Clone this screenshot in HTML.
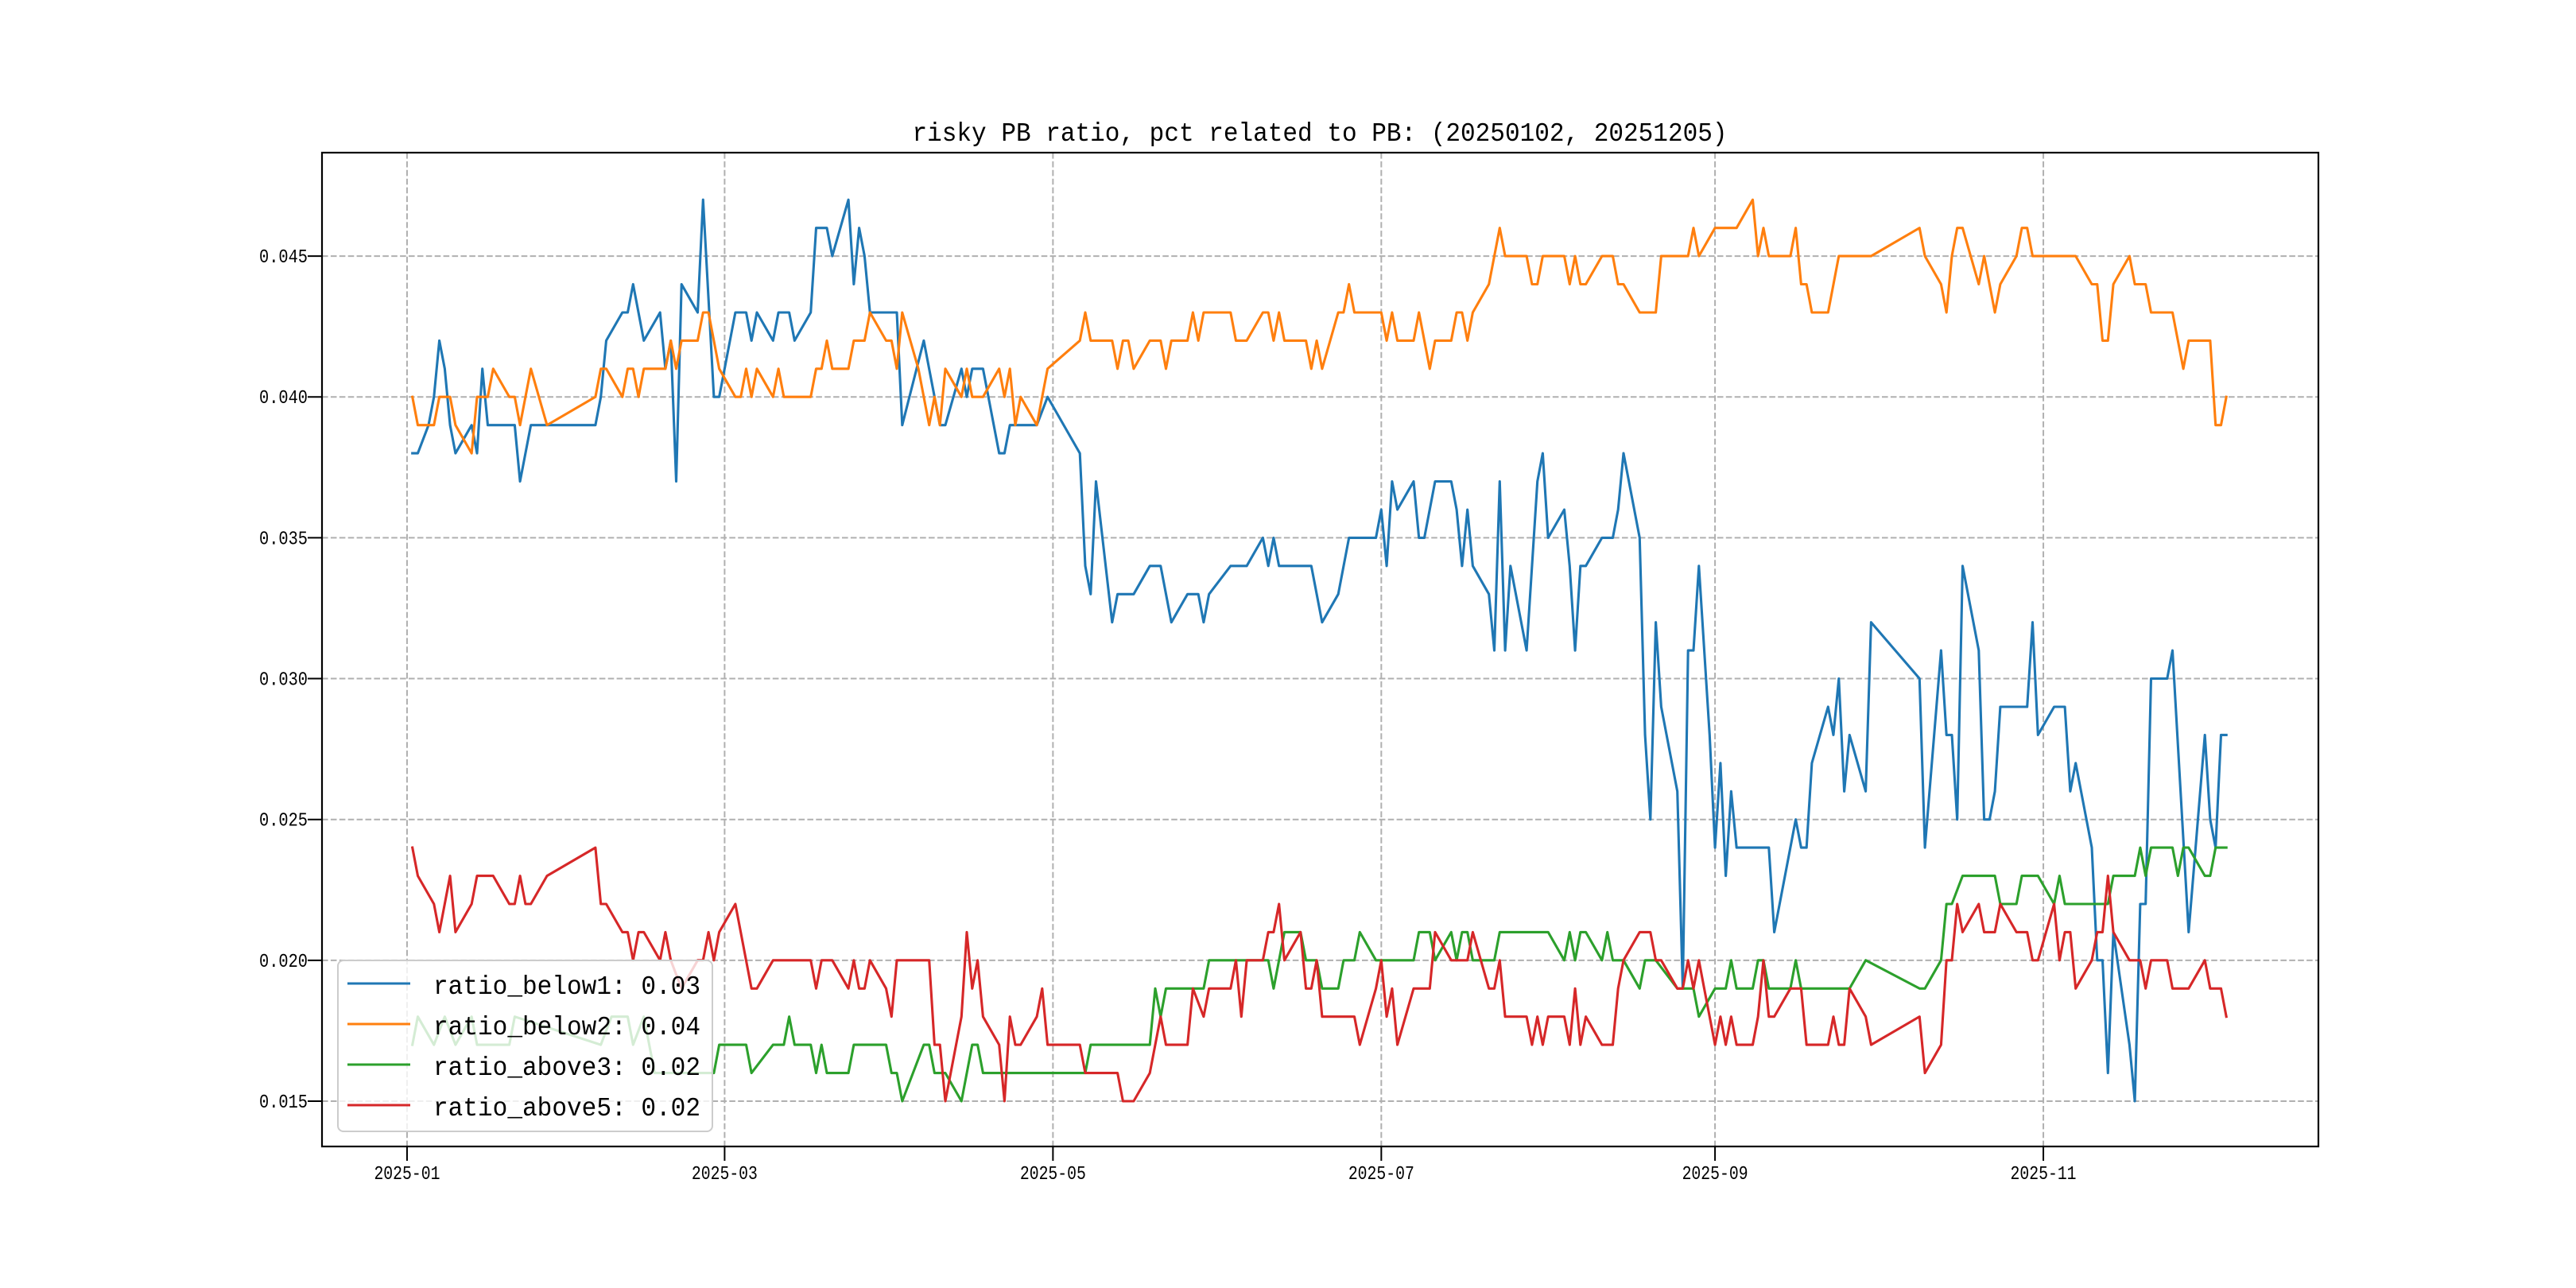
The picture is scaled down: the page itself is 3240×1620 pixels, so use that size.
<!DOCTYPE html>
<html><head><meta charset="utf-8"><style>
html,body{margin:0;padding:0;background:#fff;}
svg{display:block;}
text{font-family:"Liberation Mono","Noto Sans CJK SC",monospace;fill:#000;}
</style></head>
<body>
<svg id="chart" width="3240" height="1620" viewBox="0 0 3240 1620" xmlns="http://www.w3.org/2000/svg">
<rect x="0" y="0" width="3240" height="1620" fill="#fff"/>
<text x="1660" y="177" font-size="33" text-anchor="middle" textLength="1025" lengthAdjust="spacingAndGlyphs">risky PB ratio, pct related to PB: (20250102, 20251205)</text>
<g id="grid"></g>
<g id="series"></g>
<rect x="405" y="192" width="2511" height="1250" fill="none" stroke="#000" stroke-width="2.2"/>
<g id="axes"></g>
<g id="legend"></g>
</svg>
<script>
// ---- data (x = days since 2025-01-01) ----
const xTickDays = [0, 59, 120, 181, 243, 304];
const xTickLabels = ["2025-01","2025-03","2025-05","2025-07","2025-09","2025-11"];
const yTickValues = [0.015,0.020,0.025,0.030,0.035,0.040,0.045];
const yTickLabels = ["0.015","0.020","0.025","0.030","0.035","0.040","0.045"];
const seriesNames = ["ratio_below1: 0.03","ratio_below2: 0.04","ratio_above3: 0.02","ratio_above5: 0.02"];

const below1Days = [1,2,4,5,6,7,8,9,12,13,14,15,20,21,23,35,36,37,40,41,42,44,47,48,49,50,51,54,55,57,58,61,63,64,65,68,69,71,72,75,76,78,79,82,83,84,85,86,91,92,96,98,99,100,103,104,105,107,110,111,112,117,119,125,126,127,128,131,132,135,138,140,142,145,147,148,149,153,156,159,160,161,162,168,170,173,175,180,181,182,183,184,187,188,189,191,194,195,196,197,198,201,202,203,204,205,208,210,211,212,215,216,217,218,219,222,224,225,226,229,230,231,232,233,236,237,238,239,240,242,243,244,245,246,247,253,254,258,259,260,261,264,265,266,267,268,271,272,281,282,285,286,287,288,289,292,293,294,295,296,301,302,303,306,308,309,310,313,314,315,316,317,320,321,322,323,324,327,328,331,334,335,336,337,338];
const below1Vals = [0.038,0.038,0.039,0.040,0.042,0.041,0.039,0.038,0.039,0.038,0.041,0.039,0.039,0.037,0.039,0.039,0.040,0.042,0.043,0.043,0.044,0.042,0.043,0.041,0.042,0.037,0.044,0.043,0.047,0.040,0.040,0.043,0.043,0.042,0.043,0.042,0.043,0.043,0.042,0.043,0.046,0.046,0.045,0.047,0.044,0.046,0.045,0.043,0.043,0.039,0.042,0.040,0.039,0.039,0.041,0.040,0.041,0.041,0.038,0.038,0.039,0.039,0.040,0.038,0.034,0.033,0.037,0.032,0.033,0.033,0.034,0.034,0.032,0.033,0.033,0.032,0.033,0.034,0.034,0.035,0.034,0.035,0.034,0.034,0.032,0.033,0.035,0.035,0.036,0.034,0.037,0.036,0.037,0.035,0.035,0.037,0.037,0.036,0.034,0.036,0.034,0.033,0.031,0.037,0.031,0.034,0.031,0.037,0.038,0.035,0.036,0.034,0.031,0.034,0.034,0.035,0.035,0.036,0.038,0.035,0.028,0.025,0.032,0.029,0.026,0.019,0.031,0.031,0.034,0.028,0.024,0.027,0.023,0.026,0.024,0.024,0.021,0.025,0.024,0.024,0.027,0.029,0.028,0.030,0.026,0.028,0.026,0.032,0.030,0.024,0.031,0.028,0.028,0.025,0.034,0.031,0.025,0.025,0.026,0.029,0.029,0.032,0.028,0.029,0.029,0.026,0.027,0.024,0.020,0.020,0.016,0.021,0.017,0.015,0.022,0.022,0.030,0.030,0.031,0.021,0.028,0.025,0.024,0.028,0.028];

const below2Days = [1,2,5,6,8,9,12,13,15,16,19,20,21,23,26,35,36,37,40,41,42,43,44,48,49,50,51,54,55,56,58,61,62,63,64,65,68,69,70,75,76,77,78,79,82,83,85,86,89,90,91,92,95,97,98,99,100,103,104,105,107,110,111,112,113,114,117,118,119,125,126,127,131,132,133,134,135,138,140,141,142,145,146,147,148,153,154,156,159,160,161,162,163,167,168,169,170,173,174,175,176,181,182,183,184,187,188,190,191,194,195,196,197,198,201,203,204,208,209,210,211,215,216,217,218,219,222,224,225,226,229,232,233,238,239,240,243,247,250,251,252,253,257,258,259,260,261,264,266,272,281,282,285,286,287,288,289,292,293,295,296,299,300,301,302,310,313,314,315,316,317,320,321,323,324,328,330,331,335,336,337,338];
const below2Vals = [0.040,0.039,0.039,0.040,0.040,0.039,0.038,0.040,0.040,0.041,0.040,0.040,0.039,0.041,0.039,0.040,0.041,0.041,0.040,0.041,0.041,0.040,0.041,0.041,0.042,0.041,0.042,0.042,0.043,0.043,0.041,0.040,0.040,0.041,0.040,0.041,0.040,0.041,0.040,0.040,0.041,0.041,0.042,0.041,0.041,0.042,0.042,0.043,0.042,0.042,0.041,0.043,0.041,0.039,0.040,0.039,0.041,0.040,0.041,0.040,0.040,0.041,0.040,0.041,0.039,0.040,0.039,0.040,0.041,0.042,0.043,0.042,0.042,0.041,0.042,0.042,0.041,0.042,0.042,0.041,0.042,0.042,0.043,0.042,0.043,0.043,0.042,0.042,0.043,0.043,0.042,0.043,0.042,0.042,0.041,0.042,0.041,0.043,0.043,0.044,0.043,0.043,0.042,0.043,0.042,0.042,0.043,0.041,0.042,0.042,0.043,0.043,0.042,0.043,0.044,0.046,0.045,0.045,0.044,0.044,0.045,0.045,0.044,0.045,0.044,0.044,0.045,0.045,0.044,0.044,0.043,0.043,0.045,0.045,0.046,0.045,0.046,0.046,0.047,0.045,0.046,0.045,0.045,0.046,0.044,0.044,0.043,0.043,0.045,0.045,0.046,0.045,0.044,0.043,0.045,0.046,0.046,0.044,0.045,0.043,0.044,0.045,0.046,0.046,0.045,0.045,0.044,0.044,0.042,0.042,0.044,0.045,0.044,0.044,0.043,0.043,0.041,0.042,0.042,0.039,0.039,0.040];

const above3Days = [1,2,5,7,9,12,13,19,20,36,38,41,42,44,45,46,57,58,63,64,68,70,71,72,75,76,77,78,82,83,89,90,91,92,96,97,98,100,103,105,106,107,119,126,127,138,139,140,141,148,149,159,160,161,163,166,167,169,170,173,174,176,177,180,187,188,190,191,194,195,196,197,198,202,203,212,215,216,217,218,219,222,223,224,226,229,230,232,236,239,240,243,245,246,247,250,251,252,253,257,258,259,268,271,281,282,285,286,287,289,295,296,299,300,303,306,307,308,316,317,321,322,323,324,328,329,330,331,334,335,336,338];
const above3Vals = [0.017,0.018,0.017,0.018,0.017,0.018,0.017,0.017,0.018,0.017,0.018,0.018,0.017,0.018,0.017,0.016,0.016,0.017,0.017,0.016,0.017,0.017,0.018,0.017,0.017,0.016,0.017,0.016,0.016,0.017,0.017,0.016,0.016,0.015,0.017,0.017,0.016,0.016,0.015,0.017,0.017,0.016,0.016,0.016,0.017,0.017,0.019,0.018,0.019,0.019,0.020,0.020,0.020,0.019,0.021,0.021,0.020,0.020,0.019,0.019,0.020,0.020,0.021,0.020,0.020,0.021,0.021,0.020,0.021,0.020,0.021,0.021,0.020,0.020,0.021,0.021,0.020,0.021,0.020,0.021,0.021,0.020,0.021,0.020,0.020,0.019,0.020,0.020,0.019,0.019,0.018,0.019,0.019,0.020,0.019,0.019,0.020,0.020,0.019,0.019,0.020,0.019,0.019,0.020,0.019,0.019,0.020,0.022,0.022,0.023,0.023,0.022,0.022,0.023,0.023,0.022,0.023,0.022,0.022,0.023,0.023,0.024,0.023,0.024,0.024,0.023,0.024,0.024,0.023,0.023,0.024,0.024];

const above5Days = [1,2,5,6,8,9,12,13,16,19,20,21,22,23,26,35,36,37,40,41,42,43,44,47,48,49,51,54,55,56,57,58,61,64,65,68,75,76,77,79,82,83,84,85,86,89,90,91,97,98,99,100,103,104,105,106,107,110,111,112,113,114,117,118,119,125,126,132,133,135,138,140,141,145,146,148,149,153,154,155,156,159,160,161,162,163,166,167,168,169,170,176,177,180,181,182,183,184,187,190,191,194,197,198,201,202,203,204,208,209,210,211,212,215,216,217,218,219,222,224,225,226,229,231,232,233,236,237,238,239,240,241,242,243,244,245,246,247,250,251,252,253,254,257,259,260,264,265,266,267,268,271,272,281,282,285,286,287,288,289,292,293,295,296,299,301,302,303,306,307,308,309,310,313,314,315,316,317,320,322,323,324,327,328,331,334,335,337,338];
const above5Vals = [0.024,0.023,0.022,0.021,0.023,0.021,0.022,0.023,0.023,0.022,0.022,0.023,0.022,0.022,0.023,0.024,0.022,0.022,0.021,0.021,0.020,0.021,0.021,0.020,0.021,0.020,0.019,0.020,0.020,0.021,0.020,0.021,0.022,0.019,0.019,0.020,0.020,0.019,0.020,0.020,0.019,0.020,0.019,0.019,0.020,0.019,0.018,0.020,0.020,0.017,0.017,0.015,0.018,0.021,0.019,0.020,0.018,0.017,0.015,0.018,0.017,0.017,0.018,0.019,0.017,0.017,0.016,0.016,0.015,0.015,0.016,0.018,0.017,0.017,0.019,0.018,0.019,0.019,0.020,0.018,0.020,0.020,0.021,0.021,0.022,0.020,0.021,0.019,0.019,0.020,0.018,0.018,0.017,0.019,0.020,0.018,0.019,0.017,0.019,0.019,0.021,0.020,0.020,0.021,0.019,0.019,0.020,0.018,0.018,0.017,0.018,0.017,0.018,0.018,0.017,0.019,0.017,0.018,0.017,0.017,0.019,0.020,0.021,0.021,0.020,0.020,0.019,0.019,0.020,0.019,0.020,0.019,0.018,0.017,0.018,0.017,0.018,0.017,0.017,0.018,0.020,0.018,0.018,0.019,0.019,0.017,0.017,0.018,0.017,0.017,0.019,0.018,0.017,0.018,0.016,0.017,0.020,0.020,0.022,0.021,0.022,0.021,0.021,0.022,0.021,0.021,0.020,0.020,0.022,0.020,0.021,0.021,0.019,0.020,0.021,0.021,0.023,0.021,0.020,0.020,0.019,0.020,0.020,0.019,0.019,0.020,0.019,0.019,0.018];

const seriesColors = ["#1f77b4","#ff7f0e","#2ca02c","#d62728"];

// ---- axes ----
const PX0 = 405, PX1 = 2916, PY0 = 192, PY1 = 1442;
const XMIN = -15.8, XMAX = 355.1, YMIN = 0.013391, YMAX = 0.048672;
function xScale(d){ return PX0 + (d - XMIN) / (XMAX - XMIN) * (PX1 - PX0); }
function yScale(v){ return PY1 - (v - YMIN) / (YMAX - YMIN) * (PY1 - PY0); }
const NS = "http://www.w3.org/2000/svg";
function mk(tag, attrs, parent){ const e = document.createElementNS(NS, tag); for (const k in attrs) e.setAttribute(k, attrs[k]); parent.appendChild(e); return e; }

const grid = document.getElementById('grid');
const axes = document.getElementById('axes');
xTickDays.forEach((d, i) => {
  const x = xScale(d);
  const g = mk('line', {x1:x, x2:x, y1:PY0, y2:PY1, stroke:'#b0b0b0', 'stroke-width':2, 'stroke-dasharray':'7.6,3.3'}, grid);
  
  
  const t = mk('line', {x1:x, x2:x, y1:PY1, y2:PY1+18, stroke:'#000', 'stroke-width':2}, axes);
  
  
  const lb = mk('text', {x:x, y:PY1+41, 'font-size':24, 'text-anchor':'middle', textLength:83, lengthAdjust:'spacingAndGlyphs'}, axes);
  lb.textContent = xTickLabels[i];
  
  
});
yTickValues.forEach((v, i) => {
  const y = yScale(v);
  const g = mk('line', {x1:PX0, x2:PX1, y1:y, y2:y, stroke:'#b0b0b0', 'stroke-width':2, 'stroke-dasharray':'7.6,3.3'}, grid);
  
  
  const t = mk('line', {x1:PX0-18, x2:PX0, y1:y, y2:y, stroke:'#000', 'stroke-width':2}, axes);
  
  
  const lb = mk('text', {x:PX0-18, y:y+8, 'font-size':24, 'text-anchor':'end', textLength:61, lengthAdjust:'spacingAndGlyphs'}, axes);
  lb.textContent = yTickLabels[i];
  
  
});

// ---- series ----
const seriesG = document.getElementById('series');
const allDays = [below1Days, below2Days, above3Days, above5Days];
const allVals = [below1Vals, below2Vals, above3Vals, above5Vals];
const seriesKeys = ['ratio-below1-line','ratio-below2-line','ratio-above3-line','ratio-above5-line'];
allDays.forEach((days, s) => {
  const vals = allVals[s];
  let dstr = '';
  for (let i = 0; i < days.length; i++) {
    dstr += (i ? 'L' : 'M') + xScale(days[i]).toFixed(1) + ',' + yScale(vals[i]).toFixed(1);
  }
  const p = mk('path', {d:dstr, fill:'none', stroke:seriesColors[s], 'stroke-width':3.1, 'stroke-linejoin':'round', 'stroke-linecap':'square'}, seriesG);
  
  
});

// ---- legend ----
const leg = document.getElementById('legend');
const box = mk('rect', {x:425, y:1208, width:471, height:215, rx:7, ry:7, fill:'#fff', 'fill-opacity':0.8, stroke:'#cccccc', 'stroke-width':2}, leg);


seriesNames.forEach((name, i) => {
  const y = 1237 + i * 51;
  const ln = mk('line', {x1:437, x2:516, y1:y, y2:y, stroke:seriesColors[i], 'stroke-width':3.1}, leg);
  
  
  const tx = mk('text', {x:545, y:y+13, 'font-size':33, textLength:336, lengthAdjust:'spacingAndGlyphs'}, leg);
  tx.textContent = name;
  
  
});
</script>
</body></html>
